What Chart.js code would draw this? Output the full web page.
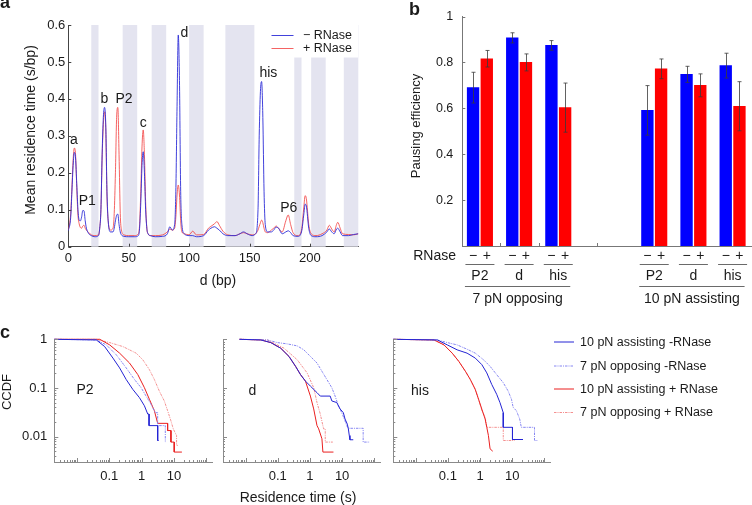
<!DOCTYPE html>
<html>
<head>
<meta charset="utf-8">
<script src="https://cdn.jsdelivr.net/npm/chart.js@4.4.1/dist/chart.umd.min.js"></script>
<style>
  body { margin: 0; background: #fff; }
  #fig { position: relative; width: 752px; height: 505px; overflow: hidden; }
  #fig canvas { position: absolute; left: 0; top: 0; }
</style>
</head>
<body>
<div id="fig">
  <canvas id="chartA" width="752" height="505"></canvas>
  <canvas id="chartB" width="752" height="505"></canvas>
  <canvas id="chartC1" width="752" height="505"></canvas>
  <canvas id="chartC2" width="752" height="505"></canvas>
  <canvas id="chartC3" width="752" height="505"></canvas>
</div>
<script>
/* ===== panel a : mean residence time along the template ===== */
const bpPos = [0, 2, 3, 4, 5, 6, 7, 8, 9, 10,
  11, 12, 13, 14, 15, 17, 19, 22, 25, 26,
  27, 28, 29, 30, 31, 32, 33, 35, 37, 38,
  39, 40, 41, 42, 43, 44, 46, 50, 55, 58,
  59, 60, 61, 62, 63, 64, 65, 66, 68, 72,
  78, 82, 84, 86, 88, 89, 90, 91, 92, 93,
  94, 96, 100, 103, 106, 112, 116, 118, 121, 123,
  125, 128, 132, 138, 142, 145, 148, 152, 155, 157,
  158, 159, 160, 161, 162, 163, 165, 168, 170, 172,
  174, 177, 180, 182, 184, 186, 190, 193, 195, 196,
  197, 199, 201, 205, 210, 214, 216, 218, 220, 222,
  223, 225, 227, 232, 236, 240];
const residenceMinus = [0.043, 0.08, 0.15, 0.22, 0.255, 0.24, 0.17, 0.10, 0.072, 0.07,
  0.08, 0.098, 0.097, 0.07, 0.05, 0.035, 0.03, 0.027, 0.03, 0.05,
  0.10, 0.25, 0.35, 0.377, 0.33, 0.15, 0.07, 0.04, 0.04, 0.05,
  0.07, 0.085, 0.088, 0.06, 0.04, 0.032, 0.028, 0.027, 0.027, 0.03,
  0.05, 0.12, 0.22, 0.257, 0.20, 0.10, 0.05, 0.035, 0.03, 0.027,
  0.028, 0.035, 0.054, 0.045, 0.06, 0.15, 0.38, 0.573, 0.45, 0.15,
  0.06, 0.035, 0.03, 0.03, 0.027, 0.03, 0.045, 0.05, 0.054, 0.05,
  0.045, 0.035, 0.03, 0.03, 0.035, 0.04, 0.035, 0.03, 0.035, 0.10,
  0.30, 0.42, 0.447, 0.35, 0.15, 0.06, 0.04, 0.04, 0.045, 0.053,
  0.05, 0.035, 0.04, 0.043, 0.038, 0.03, 0.028, 0.04, 0.09, 0.115,
  0.11, 0.05, 0.03, 0.027, 0.03, 0.04, 0.048, 0.04, 0.035, 0.048,
  0.05, 0.04, 0.03, 0.03, 0.033, 0.035];
const residencePlus = [0.045, 0.09, 0.16, 0.235, 0.267, 0.25, 0.16, 0.085, 0.062, 0.052,
  0.05, 0.056, 0.058, 0.05, 0.045, 0.038, 0.032, 0.03, 0.032, 0.05,
  0.10, 0.24, 0.33, 0.365, 0.32, 0.14, 0.07, 0.045, 0.05, 0.09,
  0.20, 0.35, 0.377, 0.25, 0.09, 0.045, 0.032, 0.03, 0.03, 0.035,
  0.06, 0.15, 0.27, 0.316, 0.25, 0.12, 0.05, 0.035, 0.03, 0.03,
  0.032, 0.04, 0.048, 0.045, 0.05, 0.08, 0.14, 0.167, 0.14, 0.07,
  0.04, 0.035, 0.032, 0.042, 0.032, 0.033, 0.05, 0.055, 0.062, 0.068,
  0.058, 0.042, 0.032, 0.03, 0.035, 0.038, 0.035, 0.032, 0.035, 0.045,
  0.055, 0.065, 0.072, 0.065, 0.05, 0.04, 0.038, 0.045, 0.05, 0.056,
  0.05, 0.04, 0.07, 0.086, 0.06, 0.038, 0.03, 0.045, 0.11, 0.138,
  0.13, 0.06, 0.035, 0.03, 0.035, 0.045, 0.058, 0.048, 0.04, 0.06,
  0.066, 0.05, 0.035, 0.033, 0.032, 0.035];
const aTicksX = [0, 50, 100, 150, 200];
const aTicksY = [0, 0.1, 0.2, 0.3, 0.4, 0.5, 0.6];
const hairpinBands = [[19, 25], [45, 57], [69, 81], [100, 112], [130, 154], [187, 193], [201, 213], [228, 240]];
const peakNames = ['a', 'P1', 'b', 'P2', 'c', 'd', 'his', 'P6'];
const peakNameBp = [4.7, 15.7, 29.8, 46.1, 62.1, 96.1, 165.6, 182.5];
const peakNameVal = [0.289, 0.122, 0.4, 0.4, 0.335, 0.578, 0.471, 0.104];

/* ===== panel b : pausing efficiency ===== */
const pauseSites = ['P2', 'd', 'his', 'P2', 'd', 'his'];
const forceGroups = ['7 pN opposing', '10 pN assisting'];
const sitePos = [1, 2, 3, 5.45, 6.45, 7.45];
const effMinus = [0.69, 0.907, 0.874, 0.591, 0.748, 0.786];
const errMinus = [0.067, 0.022, 0.021, 0.108, 0.035, 0.054];
const effPlus = [0.816, 0.8, 0.603, 0.772, 0.7, 0.609];
const errPlus = [0.036, 0.037, 0.107, 0.043, 0.05, 0.107];
const bTicksY = [0.2, 0.4, 0.6, 0.8, 1];

/* ===== panel c : CCDF of residence times (time s, survival) ===== */
const p2AsMinT = [0.002, 0.04, 0.072, 0.13, 0.209, 0.334, 0.536, 0.859, 1.22, 1.55, 1.7, 1.7, 3.14, 3.14, 3.37];
const p2AsMinS = [1, 0.97, 0.709, 0.411, 0.258, 0.149, 0.093, 0.063, 0.043, 0.029, 0.029, 0.0168, 0.0168, 0.0083, 0.0083];
const p2OpMinT = [0.002, 0.04, 0.081, 0.165, 0.334, 0.603, 0.967, 1.374, 1.957, 2.66, 3.14, 3.14, 5.4, 5.4];
const p2OpMinS = [1, 0.97, 0.767, 0.48, 0.258, 0.149, 0.101, 0.068, 0.046, 0.031, 0.031, 0.0168, 0.0168, 0.0077];
const p2AsPlusT = [0.002, 0.051, 0.103, 0.209, 0.423, 0.763, 1.222, 1.74, 2.48, 3.14, 6.37, 6.37, 8.07, 8.07, 10.2, 10.2, 17.6];
const p2AsPlusS = [1, 1, 0.767, 0.519, 0.325, 0.188, 0.101, 0.0585, 0.034, 0.0187, 0.0187, 0.0133, 0.0133, 0.0077, 0.0077, 0.0048, 0.0048];
const p2OpPlusT = [0.002, 0.04, 0.103, 0.264, 0.678, 1.087, 1.74, 2.48, 3.53, 5.03, 6.37, 8.07, 9.52, 12.05, 12.05, 13.2];
const p2OpPlusS = [1, 1, 0.856, 0.709, 0.519, 0.38, 0.238, 0.149, 0.086, 0.054, 0.034, 0.021, 0.0144, 0.0105, 0.0066, 0.0066];

const dAsMinT = [0.0065, 0.03, 0.061, 0.124, 0.224, 0.358, 0.51, 0.726, 1.035, 1.66, 2.1, 4.26, 4.79, 6.82, 8.63, 10.9, 12.3, 14.5, 15.6, 16.7, 17.5, 22.2];
const dAsMinS = [1, 0.97, 0.856, 0.656, 0.444, 0.278, 0.188, 0.138, 0.109, 0.08, 0.068, 0.068, 0.054, 0.05, 0.037, 0.031, 0.023, 0.018, 0.0144, 0.0105, 0.0086, 0.0086];
const dOpMinT = [0.0065, 0.048, 0.098, 0.199, 0.403, 0.646, 1.035, 1.66, 2.36, 3.36, 4.79, 6.06, 7.67, 9.7, 12.3, 13.8, 15.6, 45, 45, 72];
const dOpMinS = [1, 0.97, 0.856, 0.804, 0.732, 0.607, 0.444, 0.325, 0.22, 0.149, 0.101, 0.068, 0.043, 0.031, 0.021, 0.0168, 0.0148, 0.0148, 0.0077, 0.0077];
const dAsPlusT = [0.0065, 0.03, 0.061, 0.124, 0.224, 0.358, 0.51, 0.726, 1.035, 1.31, 1.66, 1.87, 2.36, 2.53, 5.38];
const dAsPlusS = [1, 0.97, 0.856, 0.656, 0.444, 0.278, 0.188, 0.138, 0.068, 0.037, 0.0168, 0.0144, 0.009, 0.0048, 0.0048];
const dOpPlusT = [0.0065, 0.048, 0.077, 0.157, 0.403, 0.817, 1.31, 1.66, 2.1, 2.66, 2.99, 2.99, 5.14];
const dOpPlusS = [1, 0.97, 0.829, 0.656, 0.38, 0.204, 0.101, 0.05, 0.029, 0.0144, 0.0144, 0.0077, 0.0077];

const hisAsMinT = [0.002, 0.047, 0.0955, 0.194, 0.394, 0.71, 1.137, 1.62, 2.31, 3.29, 4.16, 5.27, 5.27, 10.2, 10.2, 21.7];
const hisAsMinS = [1, 0.97, 0.767, 0.607, 0.519, 0.411, 0.301, 0.204, 0.118, 0.074, 0.05, 0.031, 0.0155, 0.0155, 0.0087, 0.0087];
const hisOpMinT = [0.002, 0.047, 0.0955, 0.194, 0.394, 0.71, 1.28, 2.05, 3.29, 5.27, 7.5, 9.5, 10.7, 13.5, 17.1, 19.2, 49.4, 49.4, 62.6];
const hisOpMinS = [1, 0.97, 0.856, 0.767, 0.626, 0.519, 0.38, 0.278, 0.188, 0.128, 0.086, 0.0585, 0.04, 0.034, 0.023, 0.0155, 0.0155, 0.0083, 0.0083];
const hisAsPlusT = [0.002, 0.037, 0.0755, 0.136, 0.218, 0.35, 0.498, 0.71, 0.898, 1.137, 1.44, 1.62, 1.82, 2.05, 2.48];
const hisAsPlusS = [1, 0.97, 0.767, 0.519, 0.352, 0.22, 0.149, 0.093, 0.0585, 0.0366, 0.0229, 0.0155, 0.0105, 0.0056, 0.005];
const hisOpPlusT = [0.002, 0.037, 0.0755, 0.136, 0.218, 0.35, 0.498, 0.71, 0.898, 1.137, 1.44, 1.62, 5.27, 5.27, 12.0];
const hisOpPlusS = [1, 0.97, 0.767, 0.519, 0.352, 0.22, 0.149, 0.093, 0.0585, 0.034, 0.025, 0.0155, 0.0155, 0.0083, 0.0083];

const cTicksX = [0.1, 1, 10];
const cTicksY = [0.01, 0.1, 1];
const cLegend = ['10 pN assisting -RNase', '7 pN opposing -RNase', '10 pN assisting + RNase', '7 pN opposing + RNase'];

/* ===== shared setup ===== */
const W = 752, H = 505;
const FONT = '"Liberation Sans", Arial, Helvetica, sans-serif';
Chart.defaults.font.family = FONT;
Chart.defaults.color = '#1a1a1a';

const BLUE_A = 'rgba(45, 45, 215, 0.9)';
const RED_A = 'rgba(242, 72, 72, 0.85)';
const cStyles = [
  { color: '#2424d4', dash: [] },
  { color: '#8686f2', dash: [2.5, 1, 1, 1] },
  { color: '#ea1f1f', dash: [] },
  { color: '#f49090', dash: [2.5, 1, 1, 1] },
];

const common = {
  responsive: false,
  animation: false,
  devicePixelRatio: 1,
  events: [],
  plugins: { legend: { display: false }, tooltip: { enabled: false } },
};

// chart area at fixed page coords [left, top, right, bottom]
function frame(box, yw, xh) {
  return { padding: { left: box[0] - yw, top: box[1], right: W - box[2], bottom: H - box[3] - xh } };
}

function text(ctx, s, x, y, o = {}) {
  ctx.save();
  ctx.font = (o.bold ? 'bold ' : '') + (o.size || 13) + 'px ' + FONT;
  ctx.fillStyle = o.color || '#1a1a1a';
  ctx.textAlign = o.align || 'center';
  ctx.textBaseline = o.base || 'middle';
  ctx.translate(x, y);
  if (o.rot) ctx.rotate(o.rot);
  ctx.fillText(s, 0, 0);
  ctx.restore();
}

function line(ctx, x1, y1, x2, y2, color, dash) {
  ctx.save();
  ctx.strokeStyle = color;
  ctx.lineWidth = 1;
  ctx.setLineDash(dash || []);
  ctx.beginPath();
  ctx.moveTo(x1, y1);
  ctx.lineTo(x2, y2);
  ctx.stroke();
  ctx.restore();
}

// matlab style ticks pointing into the plot
function tickMarks(color, lenFn, xValues) {
  return {
    id: 'tickMarks',
    afterDatasetsDraw(chart) {
      const { ctx, chartArea: a, scales } = chart;
      ctx.save();
      ctx.strokeStyle = color;
      ctx.lineWidth = 1;
      ctx.beginPath();
      ['x', 'y'].forEach((id) => {
        const s = scales[id];
        const vals = id === 'x' && xValues ? xValues : s.ticks.map((t) => t.value);
        vals.forEach((v) => {
          const len = lenFn(v, id);
          if (!len) return;
          const p = Math.round(s.getPixelForValue(v)) + 0.5;
          if (id === 'x') { ctx.moveTo(p, a.bottom); ctx.lineTo(p, a.bottom - len); }
          else { ctx.moveTo(a.left, p); ctx.lineTo(a.left + len, p); }
        });
      });
      ctx.stroke();
      ctx.restore();
    },
  };
}

function mantissa(v) {
  return v / Math.pow(10, Math.floor(Math.log10(v) + 1e-9));
}

function logTickLen(v) {
  const m = mantissa(v);
  if (Math.abs(m - Math.round(m)) > 1e-6) return 0;
  return Math.round(m) === 1 ? 4 : 2;
}

function logLabel(v, list) {
  const hit = list.find((u) => Math.abs(Math.log10(v) - Math.log10(u)) < 1e-6);
  return hit === undefined ? '' : String(hit);
}

/* =========================
   PANEL A
=========================*/
const bandsPlugin = {
  id: 'bands',
  beforeDatasetsDraw(chart) {
    const { ctx, chartArea: a, scales: { x } } = chart;
    ctx.save();
    ctx.fillStyle = '#e4e4f0';
    hairpinBands.forEach(([b0, b1]) => {
      const x0 = x.getPixelForValue(b0);
      const x1 = x.getPixelForValue(b1);
      ctx.fillRect(x0, a.top, x1 - x0, a.bottom - a.top);
    });
    ctx.restore();
  },
};

const decorA = {
  id: 'decorA',
  afterDraw(chart) {
    const { ctx, scales: { x, y } } = chart;
    // legend box over the bands
    ctx.save();
    ctx.fillStyle = '#fff';
    ctx.fillRect(262, 25, 96, 32.5);
    ctx.restore();
    line(ctx, 271.5, 35.5, 293.5, 35.5, BLUE_A);
    line(ctx, 271.5, 48.5, 293.5, 48.5, RED_A);
    text(ctx, '\u2212 RNase', 303, 36, { size: 12.5, align: 'left' });
    text(ctx, '+ RNase', 303, 49, { size: 12.5, align: 'left' });

    peakNames.forEach((n, i) => {
      text(ctx, n, x.getPixelForValue(peakNameBp[i]), y.getPixelForValue(peakNameVal[i]), { size: 14 });
    });

    text(ctx, 'Mean residence time (s/bp)', 31.5, 130, { size: 14, rot: -Math.PI / 2 });
    text(ctx, 'd (bp)', 218, 281, { size: 14 });
    text(ctx, 'a', 0, 8, { size: 18, bold: true, align: 'left', base: 'alphabetic' });
  },
};

new Chart(document.getElementById('chartA'), {
  type: 'line',
  data: {
    datasets: [
      {
        label: '\u2212 RNase',
        data: bpPos.map((x, i) => ({ x, y: residenceMinus[i] })),
        borderColor: BLUE_A,
        borderWidth: 1,
        pointRadius: 0,
        cubicInterpolationMode: 'monotone',
      },
      {
        label: '+ RNase',
        data: bpPos.map((x, i) => ({ x, y: residencePlus[i] })),
        borderColor: RED_A,
        borderWidth: 1,
        pointRadius: 0,
        cubicInterpolationMode: 'monotone',
      },
    ],
  },
  options: {
    ...common,
    layout: frame([68.3, 25, 358.3, 246.7], 50, 40),
    scales: {
      x: {
        type: 'linear', min: 0, max: 240,
        grid: { display: false, drawTicks: false },
        border: { color: '#444' },
        afterBuildTicks: (s) => { s.ticks = aTicksX.map((v) => ({ value: v })); },
        afterFit: (s) => { s.height = 40; },
        ticks: { font: { size: 13 }, padding: 3.5, maxRotation: 0, autoSkip: false, callback: (v) => String(v) },
      },
      y: {
        type: 'linear', min: 0, max: 0.6,
        grid: { display: false, drawTicks: false },
        border: { color: '#444' },
        afterBuildTicks: (s) => { s.ticks = aTicksY.map((v) => ({ value: v })); },
        afterFit: (s) => { s.width = 50; },
        ticks: { font: { size: 13 }, padding: 3, autoSkip: false, callback: (v) => String(v) },
      },
    },
  },
  plugins: [bandsPlugin, tickMarks('#444', () => 3), decorA],
});

/* =========================
   PANEL B
=========================*/
const BAR_OFF = 0.175;

const errorBars = {
  id: 'errorBars',
  afterDatasetsDraw(chart) {
    const { ctx, scales: { x, y } } = chart;
    const sets = [[effMinus, errMinus, -BAR_OFF], [effPlus, errPlus, BAR_OFF]];
    ctx.save();
    ctx.strokeStyle = '#3a3a3a';
    ctx.lineWidth = 0.8;
    ctx.beginPath();
    sets.forEach(([vals, errs, off]) => {
      vals.forEach((v, i) => {
        const px = Math.round(x.getPixelForValue(sitePos[i] + off)) + 0.5;
        const hi = y.getPixelForValue(v + errs[i]);
        const lo = y.getPixelForValue(v - errs[i]);
        ctx.moveTo(px, hi); ctx.lineTo(px, lo);
        ctx.moveTo(px - 2, hi); ctx.lineTo(px + 2, hi);
        ctx.moveTo(px - 2, lo); ctx.lineTo(px + 2, lo);
      });
    });
    ctx.stroke();
    ctx.restore();
  },
};

const decorB = {
  id: 'decorB',
  afterDraw(chart) {
    const { ctx, scales: { x } } = chart;
    text(ctx, 'RNase', 456, 256.5, { size: 14, align: 'right' });
    sitePos.forEach((p, i) => {
      const c = x.getPixelForValue(p);
      text(ctx, '\u2212', x.getPixelForValue(p - BAR_OFF), 256.5, { size: 14 });
      text(ctx, '+', x.getPixelForValue(p + BAR_OFF), 256.5, { size: 14 });
      line(ctx, c - 14.5, 264.5, c + 14.5, 264.5, '#6a6a6a');
      text(ctx, pauseSites[i], c, 276.5, { size: 14 });
    });
    forceGroups.forEach((g, k) => {
      const x0 = x.getPixelForValue(sitePos[k * 3]) - 15;
      const x1 = x.getPixelForValue(sitePos[k * 3 + 2]) + 12;
      line(ctx, x0, 286.5, x1, 286.5, '#6a6a6a');
      text(ctx, g, (x0 + x1) / 2, 299.5, { size: 14 });
    });
    text(ctx, 'Pausing efficiency', 416.5, 126, { size: 13, rot: -Math.PI / 2 });
    text(ctx, 'b', 409, 15, { size: 18, bold: true, align: 'left', base: 'alphabetic' });
  },
};

new Chart(document.getElementById('chartB'), {
  type: 'bar',
  data: {
    datasets: [
      {
        label: '\u2212 RNase',
        data: sitePos.map((p, i) => ({ x: p - BAR_OFF, y: effMinus[i] })),
        backgroundColor: '#0000ff',
        barThickness: 11.7,
        grouped: false,
      },
      {
        label: '+ RNase',
        data: sitePos.map((p, i) => ({ x: p + BAR_OFF, y: effPlus[i] })),
        backgroundColor: '#ff0000',
        barThickness: 11.7,
        grouped: false,
      },
    ],
  },
  options: {
    ...common,
    layout: frame([462.3, 16, 751, 246], 45, 30),
    scales: {
      x: {
        type: 'linear', min: 0.55, max: 7.92, offset: false,
        grid: { display: false, drawTicks: false },
        border: { color: '#777' },
        ticks: { display: false },
        afterFit: (s) => { s.height = 30; },
      },
      y: {
        type: 'linear', min: 0, max: 1,
        grid: { display: false, drawTicks: false },
        border: { color: '#777' },
        afterBuildTicks: (s) => { s.ticks = bTicksY.map((v) => ({ value: v })); },
        afterFit: (s) => { s.width = 45; },
        ticks: { font: { size: 12.5 }, padding: 9, autoSkip: false, callback: (v) => String(v) },
      },
    },
  },
  plugins: [tickMarks('#777', () => 3, [1.5, 2.5, 4]), errorBars, decorB],
});

/* =========================
   PANEL C
=========================*/
function ccdfChart(id, box, site, siteXY, curves, showY, extra) {
  const decor = {
    id: 'decorC',
    afterDraw(chart) {
      text(chart.ctx, site, siteXY[0], siteXY[1], { size: 14 });
      if (extra) extra(chart.ctx);
    },
  };
  return new Chart(document.getElementById(id), {
    type: 'line',
    data: {
      datasets: curves.map((c, i) => ({
        label: cLegend[i],
        data: c[0].map((t, k) => ({ x: t, y: c[1][k] })),
        borderColor: cStyles[i].color,
        borderDash: cStyles[i].dash,
        borderWidth: 1,
        pointRadius: 0,
        tension: 0,
        clip: 3,
      })),
    },
    options: {
      ...common,
      layout: frame(box, 45, 30),
      scales: {
        x: {
          type: 'logarithmic', min: 0.002, max: 150,
          grid: { display: false, drawTicks: false },
          border: { color: '#8a8a8a' },
          afterFit: (s) => { s.height = 30; },
          ticks: { font: { size: 13 }, padding: 7, maxRotation: 0, autoSkip: false, callback: (v) => logLabel(v, cTicksX) },
        },
        y: {
          type: 'logarithmic', min: 0.003, max: 1,
          grid: { display: false, drawTicks: false },
          border: { color: '#8a8a8a' },
          afterFit: (s) => { s.width = 45; },
          ticks: { display: showY, font: { size: 13 }, padding: 7, autoSkip: false, callback: (v) => logLabel(v, cTicksY) },
        },
      },
    },
    plugins: [tickMarks('#8a8a8a', logTickLen), decor],
  });
}

ccdfChart('chartC1', [54.3, 339.3, 212, 462], 'P2', [85, 390],
  [[p2AsMinT, p2AsMinS], [p2OpMinT, p2OpMinS], [p2AsPlusT, p2AsPlusS], [p2OpPlusT, p2OpPlusS]], true,
  (ctx) => {
    text(ctx, 'CCDF', 7, 392, { size: 13, rot: -Math.PI / 2 });
    text(ctx, 'c', 0, 338, { size: 18, bold: true, align: 'left', base: 'alphabetic' });
  });

ccdfChart('chartC2', [223, 339.3, 380, 462], 'd', [252.5, 391],
  [[dAsMinT, dAsMinS], [dOpMinT, dOpMinS], [dAsPlusT, dAsPlusS], [dOpPlusT, dOpPlusS]], false,
  (ctx) => {
    text(ctx, 'Residence time (s)', 298, 498, { size: 14 });
  });

ccdfChart('chartC3', [393.3, 339.3, 550, 462], 'his', [420, 391],
  [[hisAsMinT, hisAsMinS], [hisOpMinT, hisOpMinS], [hisAsPlusT, hisAsPlusS], [hisOpPlusT, hisOpPlusS]], false,
  (ctx) => {
    const rows = [341.5, 365.5, 388.5, 412];
    cLegend.forEach((name, i) => {
      line(ctx, 554, rows[i] + 0.5, 574, rows[i] + 0.5, cStyles[i].color, cStyles[i].dash);
      text(ctx, name, 580, rows[i] + 1, { size: 12.5, align: 'left' });
    });
  });
</script>
</body>
</html>
